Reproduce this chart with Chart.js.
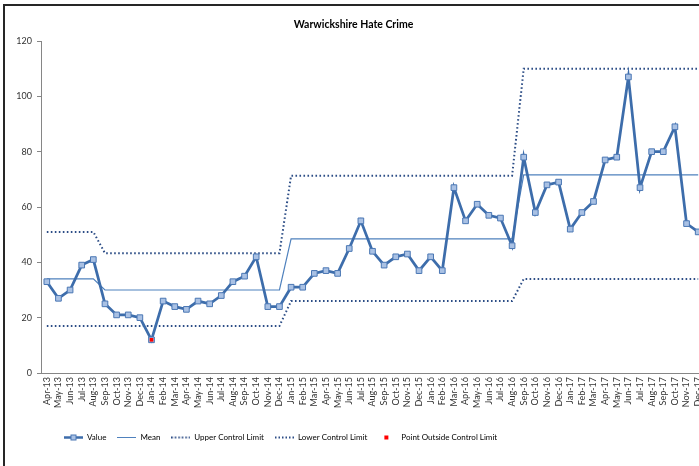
<!DOCTYPE html>
<html>
<head>
<meta charset="utf-8">
<title>Warwickshire Hate Crime</title>
<script src="https://cdn.jsdelivr.net/npm/chart.js@4.4.1/dist/chart.umd.min.js"></script>
<style>
  html, body { margin: 0; padding: 0; background: #fff; overflow: hidden; }
  #wrap { position: relative; width: 709px; height: 466px; }
  #frame {
    position: absolute; left: 3px; top: 4px; width: 800px; height: 600px;
    border-left: 2px solid #262626; border-top: 2px solid #262626;
    pointer-events: none;
  }
</style>
</head>
<body>
<div id="wrap">
  <canvas id="chart"></canvas>
  <div id="frame"></div>
</div>
<script>
// Données
const months = [
  "Apr-13", "May-13", "Jun-13", "Jul-13", "Aug-13", "Sep-13", "Oct-13", "Nov-13", "Dec-13",
  "Jan-14", "Feb-14", "Mar-14", "Apr-14", "May-14", "Jun-14", "Jul-14", "Aug-14", "Sep-14", "Oct-14", "Nov-14", "Dec-14",
  "Jan-15", "Feb-15", "Mar-15", "Apr-15", "May-15", "Jun-15", "Jul-15", "Aug-15", "Sep-15", "Oct-15", "Nov-15", "Dec-15",
  "Jan-16", "Feb-16", "Mar-16", "Apr-16", "May-16", "Jun-16", "Jul-16", "Aug-16", "Sep-16", "Oct-16", "Nov-16", "Dec-16",
  "Jan-17", "Feb-17", "Mar-17", "Apr-17", "May-17", "Jun-17", "Jul-17", "Aug-17", "Sep-17", "Oct-17", "Nov-17", "Dec-17"
];

const values = [
  33, 27, 30, 39, 41, 25, 21, 21, 20,
  12, 26, 24, 23, 26, 25, 28, 33, 35, 42, 24, 24,
  31, 31, 36, 37, 36, 45, 55, 44, 39, 42, 43, 37,
  42, 37, 67, 55, 61, 57, 56, 46, 78, 58, 68, 69,
  52, 58, 62, 77, 78, 107, 67, 80, 80, 89, 54, 51
];

const meanValues = [
  34, 34, 34, 34, 34, 30, 30, 30, 30,
  30, 30, 30, 30, 30, 30, 30, 30, 30, 30, 30, 30,
  48.5, 48.5, 48.5, 48.5, 48.5, 48.5, 48.5, 48.5, 48.5, 48.5, 48.5, 48.5,
  48.5, 48.5, 48.5, 48.5, 48.5, 48.5, 48.5, 48.5, 71.6, 71.6, 71.6, 71.6,
  71.6, 71.6, 71.6, 71.6, 71.6, 71.6, 71.6, 71.6, 71.6, 71.6, 71.6, 71.6
];

const upperLimit = [
  51, 51, 51, 51, 51, 43.3, 43.3, 43.3, 43.3,
  43.3, 43.3, 43.3, 43.3, 43.3, 43.3, 43.3, 43.3, 43.3, 43.3, 43.3, 43.3,
  71.3, 71.3, 71.3, 71.3, 71.3, 71.3, 71.3, 71.3, 71.3, 71.3, 71.3, 71.3,
  71.3, 71.3, 71.3, 71.3, 71.3, 71.3, 71.3, 71.3, 110, 110, 110, 110,
  110, 110, 110, 110, 110, 110, 110, 110, 110, 110, 110, 110
];

const lowerLimit = [
  17, 17, 17, 17, 17, 17, 17, 17, 17,
  17, 17, 17, 17, 17, 17, 17, 17, 17, 17, 17, 17,
  26, 26, 26, 26, 26, 26, 26, 26, 26, 26, 26, 26,
  26, 26, 26, 26, 26, 26, 26, 26, 34, 34, 34, 34,
  34, 34, 34, 34, 34, 34, 34, 34, 34, 34, 34, 34
];

const outsidePoints = [
  null, null, null, null, null, null, null, null, null,
  12, null, null, null, null, null, null, null, null, null, null, null,
  null, null, null, null, null, null, null, null, null, null, null, null,
  null, null, null, null, null, null, null, null, null, null, null, null,
  null, null, null, null, null, null, null, null, null, null, null, null
];

const yTicks = [0, 20, 40, 60, 80, 100, 120];

const COLORS = {
  value: "#3d6dab",
  markerFill: "#a9c1e4",
  markerBorder: "#4a77b4",
  mean: "#4f81bd",
  limit: "#2c4d86",
  outside: "#ff0000",
  axis: "#868686",
  text: "#333333",
};

Chart.defaults.font.family = "Lato, 'Liberation Sans', sans-serif";
Chart.defaults.color = COLORS.text;

// Petites icônes de légende (style Excel)
function legendIcon(draw) {
  const c = document.createElement("canvas");
  c.width = 19;
  c.height = 9;
  draw(c.getContext("2d"));
  return c;
}

const icons = {
  value: legendIcon((ctx) => {
    ctx.strokeStyle = COLORS.value;
    ctx.lineWidth = 2.5;
    ctx.beginPath(); ctx.moveTo(0, 4.5); ctx.lineTo(19, 4.5); ctx.stroke();
    ctx.fillStyle = COLORS.markerFill;
    ctx.strokeStyle = COLORS.markerBorder;
    ctx.lineWidth = 1;
    ctx.fillRect(7, 2, 5, 5);
    ctx.strokeRect(7, 2, 5, 5);
  }),
  mean: legendIcon((ctx) => {
    ctx.strokeStyle = COLORS.mean;
    ctx.lineWidth = 1;
    ctx.beginPath(); ctx.moveTo(0, 4.5); ctx.lineTo(19, 4.5); ctx.stroke();
  }),
  limit: legendIcon((ctx) => {
    ctx.strokeStyle = COLORS.limit;
    ctx.lineWidth = 2;
    ctx.setLineDash([1.5, 2]);
    ctx.beginPath(); ctx.moveTo(0, 4.5); ctx.lineTo(19, 4.5); ctx.stroke();
  }),
  outside: legendIcon((ctx) => {
    ctx.fillStyle = COLORS.outside;
    ctx.fillRect(6, 2.5, 4, 4);
  }),
};

// Décale la légende vers la gauche comme dans Excel
const legendShift = {
  id: "legendShift",
  afterUpdate(chart) {
    if (chart.legend) chart.legend.left += 53;
  },
};

new Chart(document.getElementById("chart"), {
  type: "line",
  data: {
    labels: months,
    datasets: [
      {
        label: "Value",
        data: values,
        borderColor: COLORS.value,
        borderWidth: 2.75,
        pointStyle: "rect",
        pointRadius: 4,
        pointBorderWidth: 1,
        pointBackgroundColor: COLORS.markerFill,
        pointBorderColor: COLORS.markerBorder,
        tension: 0,
        order: 1,
      },
      {
        label: "Mean",
        data: meanValues,
        borderColor: COLORS.mean,
        borderWidth: 1.2,
        pointRadius: 0,
        order: 2,
      },
      {
        label: "Upper Control Limit",
        data: upperLimit,
        borderColor: COLORS.limit,
        borderWidth: 2,
        borderDash: [1.6, 2.4],
        pointRadius: 0,
        order: 3,
      },
      {
        label: "Lower Control Limit",
        data: lowerLimit,
        borderColor: COLORS.limit,
        borderWidth: 2,
        borderDash: [1.6, 2.4],
        pointRadius: 0,
        order: 4,
      },
      {
        label: "Point Outside Control Limit",
        data: outsidePoints,
        showLine: false,
        pointStyle: "rect",
        pointRadius: 2.6,
        pointBorderWidth: 0,
        pointBackgroundColor: COLORS.outside,
        pointBorderColor: COLORS.outside,
        order: 0,
      },
    ],
  },
  options: {
    responsive: true,
    maintainAspectRatio: false,
    animation: false,
    layout: { padding: { top: 10, right: 2, bottom: 14.5, left: 0 } },
    plugins: {
      title: {
        display: true,
        text: "Warwickshire Hate Crime",
        color: "#000",
        font: { size: 10.5, weight: "bold" },
        padding: { top: 8, bottom: 10.4 },
      },
      legend: {
        position: "bottom",
        align: "start",
        labels: {
          usePointStyle: true,
          pointStyleWidth: 19,
          padding: 11,
          font: { size: 8 },
          color: COLORS.text,
          generateLabels: () => [
            { text: "Value", pointStyle: icons.value, datasetIndex: 0, lineWidth: 0 },
            { text: "Mean", pointStyle: icons.mean, datasetIndex: 1, lineWidth: 0 },
            { text: "Upper Control Limit", pointStyle: icons.limit, datasetIndex: 2, lineWidth: 0 },
            { text: "Lower Control Limit", pointStyle: icons.limit, datasetIndex: 3, lineWidth: 0 },
            { text: "Point Outside Control Limit", pointStyle: icons.outside, datasetIndex: 4, lineWidth: 0 },
          ],
        },
      },
      tooltip: { enabled: false },
    },
    scales: {
      x: {
        offset: true,
        afterFit: (s) => {
          s.height = 49.5;
          s.paddingLeft = 0;
          s.paddingRight = 0;
        },
        border: { color: COLORS.axis, width: 1 },
        grid: { drawOnChartArea: false, drawTicks: false, color: COLORS.axis },
        ticks: {
          autoSkip: false,
          minRotation: 90,
          maxRotation: 90,
          padding: 4,
          font: { size: 9 },
        },
      },
      y: {
        min: 0,
        max: 120,
        afterFit: (s) => { s.width = 41; },
        afterBuildTicks: (s) => { s.ticks = yTicks.map((v) => ({ value: v })); },
        border: { color: COLORS.axis, width: 1 },
        grid: { drawOnChartArea: false, drawTicks: true, tickLength: 4, color: COLORS.axis },
        ticks: { padding: 5, font: { size: 9 } },
      },
    },
  },
  plugins: [legendShift],
});
</script>
</body>
</html>
